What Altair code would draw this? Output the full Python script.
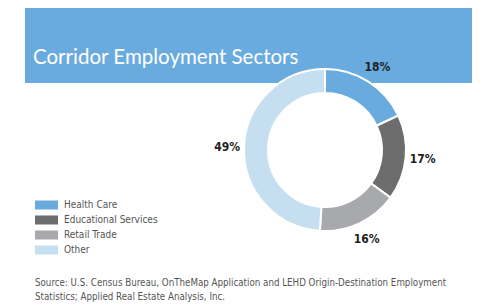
import altair as alt
import pandas as pd

sectors = ["Health Care", "Educational Services", "Retail Trade", "Other"]
shares = [18, 17, 16, 49]
colors = ["#6aabdf", "#6d6d6d", "#a8a9ad", "#c5dff0"]
title_text = "Corridor Employment Sectors"
source_lines = [
    "Source: U.S. Census Bureau, OnTheMap Application and LEHD Origin-Destination Employment",
    "Statistics; Applied Real Estate Analysis, Inc.",
]

df = pd.DataFrame({"sector": sectors, "share": shares, "order": list(range(len(sectors)))})
df["label"] = df["share"].astype(str) + "%"

color = alt.Color("sector:N", scale=alt.Scale(domain=sectors, range=colors), legend=None)
CX, CY = 317, 142
NARROW = "'DejaVu Sans Condensed', Roboto, sans-serif"

one = alt.Data(values=[{}])

banner = alt.Chart(one).mark_rect(color="#6aabdf").encode(
    x=alt.value(17), x2=alt.value(464), y=alt.value(0), y2=alt.value(75)
)
title = alt.Chart(one).mark_text(
    text=title_text, font="Lato", fontSize=20.5, color="white", align="left", baseline="alphabetic"
).encode(x=alt.value(25), y=alt.value(56))

donut = alt.Chart(df).mark_arc(innerRadius=57, outerRadius=81, stroke="white", strokeWidth=2).encode(
    theta=alt.Theta("share:Q", stack=True),
    order=alt.Order("order:Q"),
    color=color,
    x=alt.value(CX), y=alt.value(CY),
)
labels = alt.Chart(df).mark_text(
    radius=98, font=NARROW, fontWeight="bold", fontSize=12, color="#222222"
).encode(
    theta=alt.Theta("share:Q", stack=True),
    order=alt.Order("order:Q"),
    text="label:N",
    x=alt.value(CX), y=alt.value(CY),
)

yleg = alt.Y("sector:N", scale=alt.Scale(type="point", domain=sectors, range=[197, 242], padding=0), axis=None)
swatches = alt.Chart(df).mark_rule(strokeWidth=9).encode(
    x=alt.value(27), x2=alt.value(50), y=yleg, color=color
)
leg_text = alt.Chart(df).mark_text(
    align="left", baseline="middle", font=NARROW, fontSize=10, color="#555555"
).encode(x=alt.value(56), y=yleg, text="sector:N")

source = alt.Chart(one).mark_text(
    text=source_lines, align="left", baseline="middle", font=NARROW, fontSize=9.7,
    color="#555555", lineHeight=14
).encode(x=alt.value(27), y=alt.value(275))

chart = alt.layer(banner, title, donut, labels, swatches, leg_text, source).properties(
    width=471, height=299, padding=0, autosize="none"
).configure_view(stroke=None)

chart.save("out.html", embed_options={"renderer": "svg", "actions": False})
